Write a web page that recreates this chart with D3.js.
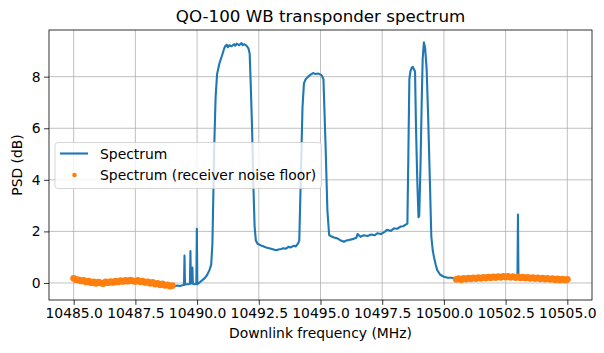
<!DOCTYPE html>
<html>
<head>
<meta charset="utf-8">
<script src="https://cdn.jsdelivr.net/npm/d3@7"></script>
<style>
  body { margin: 0; background: #fff; }
  text { font-family: "DejaVu Sans", sans-serif; fill: #000; }
</style>
</head>
<body>
<script>
// Spectrum trace (MHz, dB)
var spectrumFreq = [10485.0, 10485.5, 10486.0, 10486.5, 10487.0, 10487.5, 10488.0, 10488.5, 10489.0,
  10489.1, 10489.2, 10489.3, 10489.4, 10489.47, 10489.49, 10489.51, 10489.6, 10489.71, 10489.73, 10489.75,
  10489.79, 10489.81, 10489.83, 10489.9, 10489.97, 10489.99, 10490.01, 10490.1, 10490.2, 10490.3,
  10490.4, 10490.5, 10490.57, 10490.62, 10490.66, 10490.7, 10490.75, 10490.81, 10490.9, 10491.02,
  10491.1, 10491.15, 10491.2, 10491.25, 10491.3, 10491.4, 10491.5, 10491.55, 10491.6, 10491.7,
  10491.8, 10491.85, 10491.9, 10492.0, 10492.08, 10492.13, 10492.18, 10492.23, 10492.28, 10492.33,
  10492.38, 10492.45, 10492.6, 10492.8, 10493.0, 10493.1, 10493.2, 10493.3, 10493.4, 10493.5,
  10493.6, 10493.7, 10493.8, 10493.9, 10494.0, 10494.1, 10494.14, 10494.2, 10494.27, 10494.33,
  10494.4, 10494.5, 10494.6, 10494.7, 10494.8, 10494.9, 10495.0, 10495.05, 10495.12, 10495.2,
  10495.28, 10495.35, 10495.45, 10495.55, 10495.68, 10495.8, 10495.95, 10496.05, 10496.15, 10496.3,
  10496.45, 10496.5, 10496.62, 10496.75, 10496.9, 10497.05, 10497.2, 10497.3, 10497.45, 10497.6,
  10497.7, 10497.85, 10497.98, 10498.1, 10498.25, 10498.35, 10498.45, 10498.52, 10498.56, 10498.6,
  10498.64, 10498.7, 10498.74, 10498.78, 10498.83, 10498.87, 10498.92, 10498.97, 10499.0, 10499.05,
  10499.1, 10499.14, 10499.19, 10499.24, 10499.3, 10499.36, 10499.43, 10499.49, 10499.55, 10499.6,
  10499.67, 10499.73, 10499.85, 10500.0, 10500.15, 10500.3, 10500.5, 10501.0, 10501.5, 10502.0,
  10502.5, 10502.98, 10503.0, 10503.02, 10503.5, 10504.0, 10504.5, 10505.0];
var spectrumPsd = [0.15, 0.06, 0.01, 0.03, 0.07, 0.09, 0.04, -0.04, -0.12,
  -0.13, -0.10, -0.12, -0.09, -0.08, 1.06, -0.06, -0.05, -0.04, 1.24, 0.0,
  -0.02, 0.60, -0.03, -0.05, -0.04, 2.10, -0.05, 0.02, 0.10, 0.18,
  0.30, 0.50, 0.70, 1.5, 3.5, 5.5, 7.2, 8.1, 8.5, 8.85,
  9.1, 9.2, 9.24, 9.14, 9.22, 9.18, 9.26, 9.2, 9.28, 9.22,
  9.3, 9.22, 9.26, 9.2, 9.1, 8.9, 7.5, 5.9, 3.8, 2.2,
  1.65, 1.52, 1.45, 1.38, 1.33, 1.30, 1.27, 1.30, 1.32, 1.35,
  1.33, 1.40, 1.38, 1.44, 1.42, 1.55, 1.65, 4.0, 6.8, 7.75,
  7.9, 8.0, 8.08, 8.14, 8.1, 8.12, 8.08, 8.05, 7.9, 5.5,
  2.8, 1.86, 1.80, 1.76, 1.73, 1.66, 1.60, 1.65, 1.67, 1.70,
  1.75, 1.90, 1.79, 1.85, 1.82, 1.88, 1.85, 1.93, 1.90, 1.98,
  2.06, 2.02, 2.12, 2.10, 2.19, 2.20, 2.26, 2.30, 5.0, 7.9,
  8.2, 8.35, 8.38, 8.3, 8.2, 6.0, 4.0, 2.55, 2.6, 4.5,
  7.0, 8.7, 9.33, 9.1, 8.3, 6.5, 4.0, 1.8, 1.25, 1.0,
  0.7, 0.5, 0.32, 0.24, 0.2, 0.2, 0.17, 0.19, 0.21, 0.24,
  0.25, 0.24, 2.65, 0.23, 0.2, 0.18, 0.15, 0.14];

// Receiver noise floor bins (0.1 MHz steps)
var floorLowStart = 10485.0, floorHighStart = 10500.5, floorStep = 0.1;
var floorLowPsd = [0.18, 0.13, 0.12, 0.08, 0.10, 0.04, 0.07, 0.01, 0.04, -0.01,
  0.03, 0.00, -0.02, 0.04, 0.01, 0.05, 0.02, 0.07, 0.04, 0.09,
  0.06, 0.10, 0.07, 0.11, 0.08, 0.06, 0.10, 0.05, 0.07, 0.02,
  0.04, -0.01, 0.02, -0.04, -0.02, -0.07, -0.04, -0.09, -0.07, -0.12, -0.10];
var floorHighPsd = [0.14, 0.17, 0.13, 0.18, 0.15, 0.19, 0.16, 0.20, 0.17, 0.21,
  0.18, 0.22, 0.19, 0.23, 0.20, 0.24, 0.21, 0.25, 0.22, 0.26,
  0.23, 0.26, 0.22, 0.25, 0.21, 0.24, 0.20, 0.23, 0.19, 0.22,
  0.18, 0.21, 0.17, 0.20, 0.16, 0.19, 0.15, 0.18, 0.14, 0.17,
  0.13, 0.16, 0.12, 0.15, 0.12, 0.14];

var xTicks = [10485.0, 10487.5, 10490.0, 10492.5, 10495.0, 10497.5, 10500.0, 10502.5, 10505.0];
var yTicks = [0, 2, 4, 6, 8];

var spectrum = spectrumFreq.map(function(f, i) { return [f, spectrumPsd[i]]; });
var noiseFloor = floorLowPsd.map(function(v, i) { return [floorLowStart + i * floorStep, v]; })
  .concat(floorHighPsd.map(function(v, i) { return [floorHighStart + i * floorStep, v]; }));

var width = 604, height = 353;
var margin = { left: 49, right: 12, top: 30, bottom: 53 };

var svg = d3.select("body").append("svg")
  .attr("width", width)
  .attr("height", height);

var x = d3.scaleLinear()
  .domain([10484, 10506])
  .range([margin.left, width - margin.right]);
var y = d3.scaleLinear()
  .domain([-0.66, 9.81])
  .range([height - margin.bottom, margin.top]);

svg.append("defs").append("clipPath").attr("id", "plot")
  .append("rect")
  .attr("x", margin.left).attr("y", margin.top)
  .attr("width", width - margin.left - margin.right)
  .attr("height", height - margin.top - margin.bottom);

// grid
svg.append("g").selectAll("line").data(xTicks).enter().append("line")
  .attr("x1", d => x(d)).attr("x2", d => x(d))
  .attr("y1", margin.top).attr("y2", height - margin.bottom)
  .attr("stroke", "#b0b0b0").attr("stroke-width", 0.8);
svg.append("g").selectAll("line").data(yTicks).enter().append("line")
  .attr("y1", d => y(d)).attr("y2", d => y(d))
  .attr("x1", margin.left).attr("x2", width - margin.right)
  .attr("stroke", "#b0b0b0").attr("stroke-width", 0.8);

var plot = svg.append("g").attr("clip-path", "url(#plot)");

var line = d3.line().x(d => x(d[0])).y(d => y(d[1]));
plot.append("path")
  .datum(spectrum)
  .attr("d", line)
  .attr("fill", "none")
  .attr("stroke", "#1f77b4")
  .attr("stroke-width", 2.1)
  .attr("stroke-linejoin", "round");

plot.append("g").selectAll("circle")
  .data(noiseFloor)
  .enter().append("circle")
  .attr("cx", d => x(d[0]))
  .attr("cy", d => y(d[1]))
  .attr("r", 3.4)
  .attr("fill", "#ff7f0e");

// axes
var xAxis = svg.append("g")
  .attr("transform", "translate(0," + (height - margin.bottom) + ")")
  .call(d3.axisBottom(x).tickValues(xTicks).tickFormat(d3.format(".1f")).tickSize(4.9).tickPadding(3.5));
var yAxis = svg.append("g")
  .attr("transform", "translate(" + margin.left + ",0)")
  .call(d3.axisLeft(y).tickValues(yTicks).tickFormat(d3.format("d")).tickSize(4.9).tickPadding(3.5));
[xAxis, yAxis].forEach(function(a) {
  a.select(".domain").remove();
  a.selectAll("line").attr("stroke", "#000").attr("stroke-width", 0.8);
  a.selectAll("text").attr("font-size", 13.9).attr("font-family", "DejaVu Sans").attr("fill", "#000");
});

svg.append("rect")
  .attr("x", margin.left).attr("y", margin.top)
  .attr("width", width - margin.left - margin.right)
  .attr("height", height - margin.top - margin.bottom)
  .attr("fill", "none").attr("stroke", "#000").attr("stroke-width", 0.8);

// titles
svg.append("text")
  .attr("x", (margin.left + width - margin.right) / 2).attr("y", 22)
  .attr("text-anchor", "middle").attr("font-size", 16.7)
  .text("QO-100 WB transponder spectrum");
svg.append("text")
  .attr("x", (margin.left + width - margin.right) / 2).attr("y", 338)
  .attr("text-anchor", "middle").attr("font-size", 13.9)
  .text("Downlink frequency (MHz)");
svg.append("text")
  .attr("transform", "translate(21.5," + ((margin.top + height - margin.bottom) / 2) + ") rotate(-90)")
  .attr("text-anchor", "middle").attr("font-size", 13.9)
  .text("PSD (dB)");

// legend
var legend = svg.append("g");
legend.append("rect")
  .attr("x", 55).attr("y", 142.5).attr("width", 266.5).attr("height", 46)
  .attr("rx", 3)
  .attr("fill", "#fff").attr("fill-opacity", 0.8)
  .attr("stroke", "#cccccc").attr("stroke-width", 0.8);
legend.append("line")
  .attr("x1", 60).attr("x2", 88).attr("y1", 153.5).attr("y2", 153.5)
  .attr("stroke", "#1f77b4").attr("stroke-width", 2.1);
legend.append("circle")
  .attr("cx", 74.5).attr("cy", 175).attr("r", 2.3).attr("fill", "#ff7f0e");
legend.append("text").attr("x", 100).attr("y", 158.5).attr("font-size", 13.9).text("Spectrum");
legend.append("text").attr("x", 100).attr("y", 179.5).attr("font-size", 13.9).text("Spectrum (receiver noise floor)");
</script>
</body>
</html>
